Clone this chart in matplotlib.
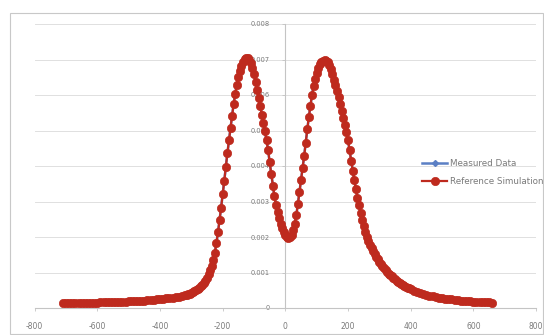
import numpy as np
import matplotlib
matplotlib.use("Agg")
import matplotlib.pyplot as plt
from matplotlib.patches import Rectangle

plt.rcParams["axes.unicode_minus"] = False

# ---- data (y values in units of 1e-5) ----
x_left = list(range(-710, -319, 10))
y_left_e5 = [13, 13, 13, 13, 14, 14, 14, 14, 15, 15, 15, 15, 16, 16, 16, 17, 17, 17, 18, 18,
             18, 19, 19, 20, 20, 21, 21, 22, 22, 23, 24, 25, 26, 27, 28, 29, 31, 32, 34, 36]

x_core = list(range(-315, 401, 5))
y_core_e5 = [37, 39, 40, 42, 44, 47, 50, 53, 57, 61, 65, 70, 77, 85, 95, 106, 119, 135, 155, 183,
             213, 247, 283, 320, 358, 398, 436, 472, 508, 542, 574, 603, 628, 650, 668, 683, 694, 701, 704, 703,
             698, 689, 676, 659, 638, 615, 592, 568, 545, 521, 498, 472, 445, 410, 378, 345, 315, 290, 270, 253,
             238, 225, 214, 205, 199, 196, 199, 207, 220, 238, 262, 293, 327, 360, 393, 428, 466, 503, 538, 570,
             600, 624, 645, 662, 676, 686, 693, 697, 698, 697, 692, 684, 672, 658, 643, 627, 610, 593, 575, 556,
             536, 516, 496, 472, 444, 414, 386, 360, 335, 311, 289, 268, 249, 231, 215, 201, 189, 178, 169, 160,
             152, 144, 137, 130, 124, 118, 112, 107, 102, 97, 93, 89, 85, 81, 77, 74, 71, 68, 65, 62,
             60, 57, 55, 53]

x_right = list(range(410, 661, 10))
y_right_e5 = [49, 46, 43, 40, 37, 35, 33, 31, 29, 27, 26, 25, 24, 23, 22, 21, 20, 19, 19, 18,
              18, 17, 17, 16, 16, 15]

assert len(x_left) == len(y_left_e5)
assert len(x_core) == len(y_core_e5)
assert len(x_right) == len(y_right_e5)

x_vals = np.array(x_left + x_core + x_right, dtype=float)
sim_vals = np.array(y_left_e5 + y_core_e5 + y_right_e5, dtype=float) * 1e-5
meas_vals = sim_vals.copy()

series_names = ["Measured Data", "Reference Simulation"]
x_ticks = [-800, -600, -400, -200, 0, 200, 400, 600, 800]
y_ticks = [0, 0.001, 0.002, 0.003, 0.004, 0.005, 0.006, 0.007, 0.008]
y_tick_labels = ["0", "0.001", "0.002", "0.003", "0.004", "0.005", "0.006", "0.007", "0.008"]

# ---- figure ----
W, H = 544, 335
fig = plt.figure(figsize=(W / 100, H / 100), dpi=100)
fig.patch.set_facecolor("white")

# chart area border
fig.patches.append(Rectangle((10 / W, 1 - 334 / H), 533 / W, 321 / H, transform=fig.transFigure,
                             fill=False, edgecolor="#C8C8C8", linewidth=0.8))

ax = fig.add_axes([34.7 / W, 1 - 308 / H, 501.3 / W, 284 / H])
ax.set_facecolor("none")

grid_c = "#E0E0E0"
axis_c = "#C4C4C4"
text_c = "#7A7A7A"

ax.set_xlim(-800, 800)
ax.set_ylim(0, 0.008)
ax.set_yticks(y_ticks)
ax.set_yticklabels(y_tick_labels)
ax.set_xticks(x_ticks)
ax.set_xticklabels([str(v) for v in x_ticks])
ax.yaxis.grid(True, color=grid_c, linewidth=0.7)
ax.set_axisbelow(True)

for s in ["top", "right"]:
    ax.spines[s].set_visible(False)
ax.spines["left"].set_position(("data", 0))
ax.spines["left"].set_color(axis_c)
ax.spines["bottom"].set_color(axis_c)
ax.spines["left"].set_linewidth(0.8)
ax.spines["bottom"].set_linewidth(0.8)

ax.tick_params(axis="y", length=2, width=0.6, color=axis_c, pad=9, labelsize=4.8, labelcolor=text_c)
ax.tick_params(axis="x", length=2, width=0.6, color=axis_c, pad=8, labelsize=5.5, labelcolor=text_c)

blue = "#5B7FC4"
red = "#BE2A1E"
ax.plot(x_vals, meas_vals, color=blue, linewidth=1.8, marker="D", markersize=3,
        markerfacecolor=blue, markeredgecolor=blue, label=series_names[0], zorder=3)
ax.plot(x_vals, sim_vals, color=red, linewidth=1.6, marker="o", markersize=6,
        markerfacecolor=red, markeredgecolor=red, markeredgewidth=0.5,
        label=series_names[1], zorder=4)

leg = fig.legend(loc="center left", bbox_to_anchor=(422 / W, 1 - 172.5 / H), frameon=False,
                 fontsize=6.3, numpoints=1, handlelength=2.9, handletextpad=0.3,
                 labelspacing=1.1, borderpad=0, borderaxespad=0)
for t in leg.get_texts():
    t.set_color(text_c)

fig.savefig("out.png", dpi=100, facecolor="white")
